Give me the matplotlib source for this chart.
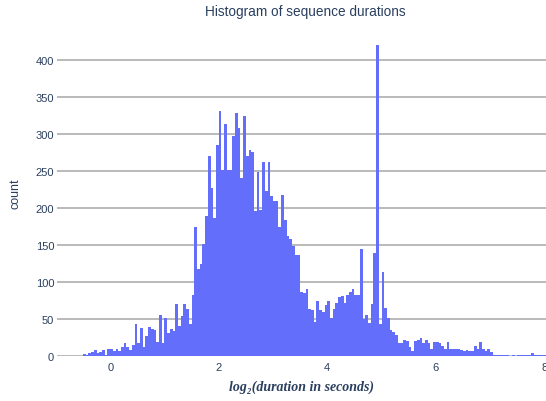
import matplotlib
matplotlib.use("Agg")
import matplotlib.pyplot as plt
import numpy as np

# histogram of log2(duration), bin width 0.05 starting at -0.5
bin_start = -0.5
bin_width = 0.05
counts = [
    3, 1, 4, 5, 8, 4, 6, 8, 1, 10,
    10, 7, 10, 7, 12, 18, 12, 8, 15, 43,
    17, 38, 12, 27, 39, 36, 35, 19, 56, 18,
    51, 31, 37, 34, 70, 40, 54, 70, 64, 43,
    82, 175, 118, 124, 151, 189, 270, 227, 186, 285,
    331, 251, 313, 251, 252, 298, 328, 308, 241, 324,
    270, 279, 276, 196, 249, 198, 262, 223, 262, 216,
    209, 210, 175, 218, 184, 162, 158, 149, 136, 137,
    87, 85, 90, 64, 62, 46, 74, 62, 60, 69,
    74, 52, 64, 72, 80, 81, 72, 82, 87, 91,
    82, 82, 145, 50, 55, 44, 70, 139, 420, 43,
    113, 65, 52, 35, 32, 29, 17, 17, 22, 20,
    12, 7, 20, 22, 24, 17, 22, 17, 9, 19,
    19, 17, 14, 9, 19, 10, 10, 10, 9, 8,
    7, 8, 7, 7, 14, 9, 19, 10, 7, 10,
    6, 2, 1, 1, 1, 1, 1, 0, 1, 0,
    1, 1, 2, 1, 1, 4, 1, 1, 2, 1,
    1,
]
x_ticks = [0, 2, 4, 6, 8]
y_ticks = list(range(0, 401, 50))

TEXT = "#2a3f5f"
plt.rcParams["font.family"] = ["Liberation Sans", "DejaVu Sans"]

fig = plt.figure(figsize=(5.46, 4.02), dpi=100)
ax = fig.add_axes([57 / 546, 45 / 402, 489 / 546, 327 / 402])

edges = bin_start + bin_width * np.arange(len(counts) + 1)
ax.bar(edges[:-1], counts, width=bin_width, align="edge",
       color="#636efa", linewidth=0, zorder=2)

ax.set_xlim(-0.98, 8.03)
ax.set_ylim(0, 442)
ax.set_xticks(x_ticks)
ax.set_yticks(y_ticks)
ax.grid(True, axis="y", color="#b4b4b4", linewidth=1.3, zorder=0)
ax.set_axisbelow(True)
for s in ax.spines.values():
    s.set_visible(False)
ax.tick_params(length=0, labelsize=8.0, labelcolor=TEXT, pad=2)
ax.tick_params(axis="x", pad=4)

ax.set_ylabel("count", fontsize=9, color=TEXT, labelpad=10)
ax.set_xlabel("log\u2082(duration in seconds)", fontsize=10, color=TEXT,
              family=["Liberation Serif", "DejaVu Serif"],
              style="italic", weight="bold", labelpad=6)
fig.text(305 / 546, 1 - 12 / 402, "Histogram of sequence durations",
         ha="center", va="center", fontsize=9.8, color=TEXT)

fig.savefig("out.png", dpi=100)
